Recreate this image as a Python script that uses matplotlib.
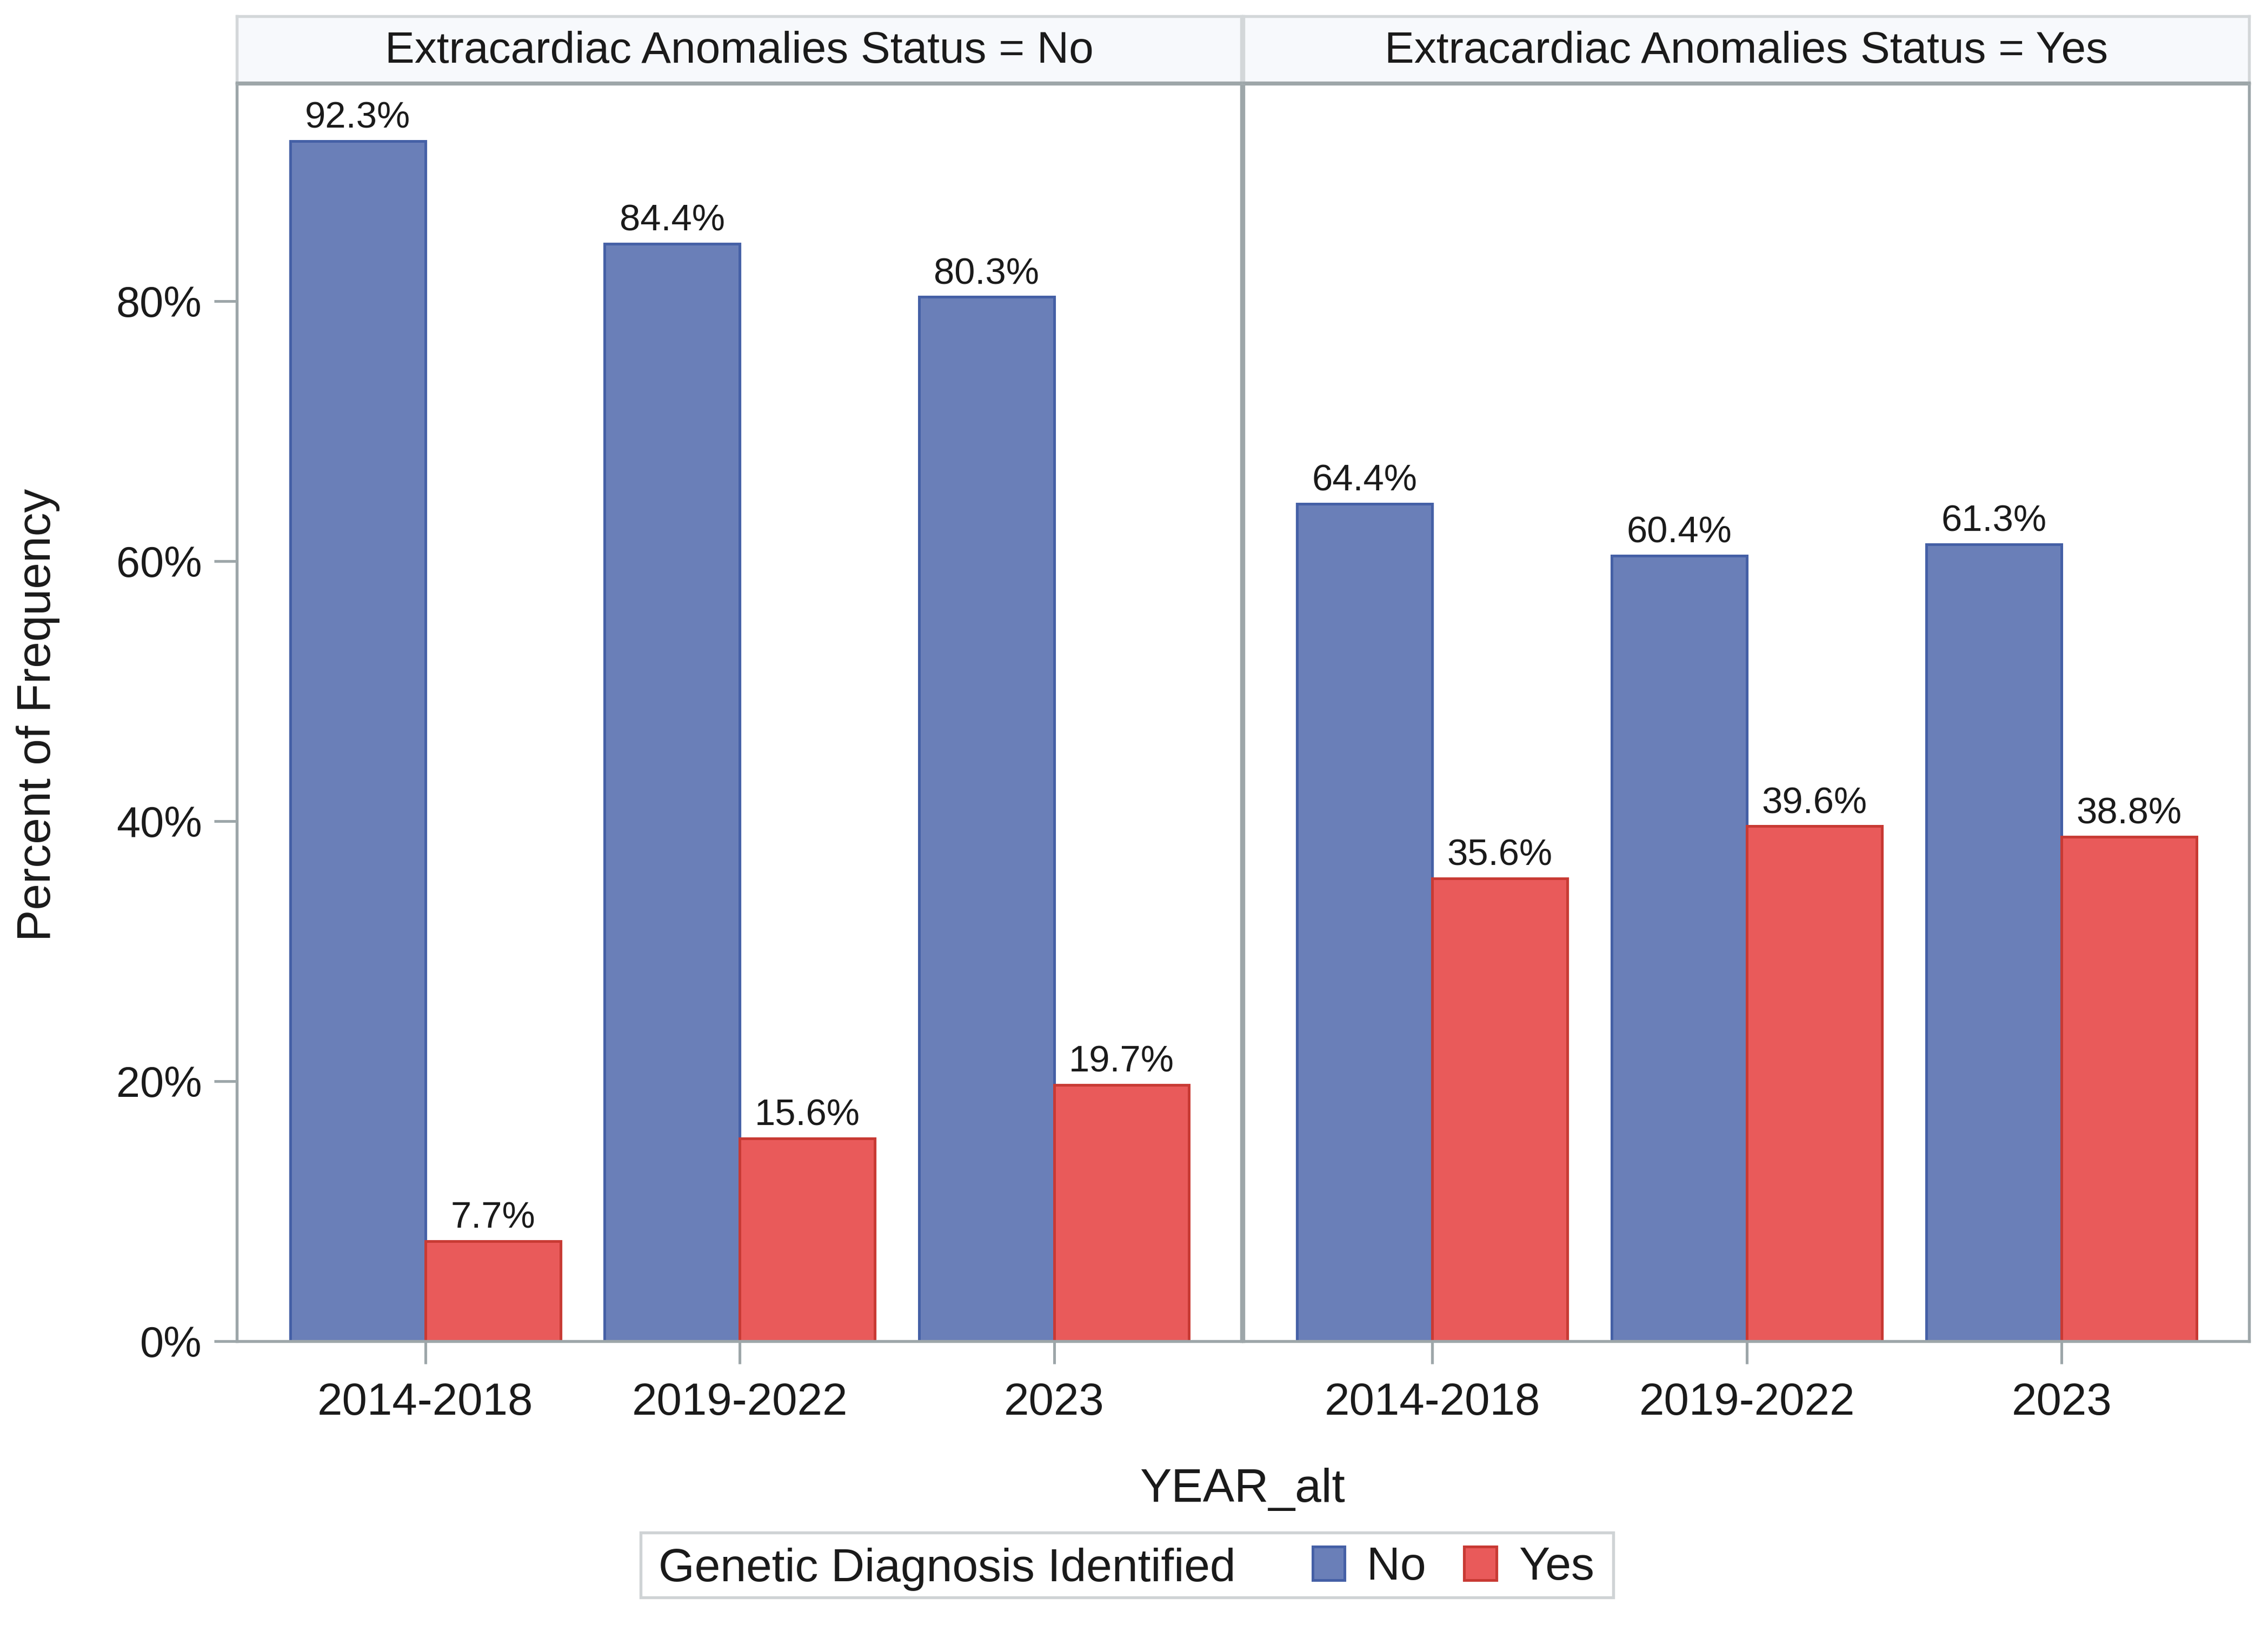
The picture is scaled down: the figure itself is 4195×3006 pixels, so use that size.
import matplotlib
matplotlib.use("Agg")
import matplotlib.pyplot as plt
from matplotlib.patches import Rectangle, Patch
import numpy as np

plt.rcParams['font.family'] = ['Liberation Sans', 'DejaVu Sans']

# ---------------- data ----------------
panel_titles = ["Extracardiac Anomalies Status = No", "Extracardiac Anomalies Status = Yes"]
periods = ["2014-2018", "2019-2022", "2023"]
# Genetic Diagnosis Identified = No / Yes, per panel
extracardiac_no_diag_no = [92.3, 84.4, 80.3]
extracardiac_no_diag_yes = [7.7, 15.6, 19.7]
extracardiac_yes_diag_no = [64.4, 60.4, 61.3]
extracardiac_yes_diag_yes = [35.6, 39.6, 38.8]
ytick_values = [0, 20, 40, 60, 80]
ytick_labels = ["0%", "20%", "40%", "60%", "80%"]
legend_title = "Genetic Diagnosis Identified"
legend_labels = ["No", "Yes"]
x_label = "YEAR_alt"
y_label = "Percent of Frequency"

# ---------------- style ----------------
W, H, DPI = 4195, 3006, 300
BLUE, BLUE_E = "#6A7FB8", "#4560A6"
RED, RED_E = "#E95A5A", "#C83A34"
GRAY = "#9DA6A9"
HEADER_BG = "#F7F9FC"

def fx(px):
    return px / W

def fy(py):
    return 1 - py / H

fig = plt.figure(figsize=(W / DPI, H / DPI), dpi=DPI)
fig.patch.set_facecolor("white")

plot_top, plot_bot = 155, 2481
head_top, head_bot = 30, 153
panel_x = [(438, 2296), (2300, 4160)]
data = [(extracardiac_no_diag_no, extracardiac_no_diag_yes),
        (extracardiac_yes_diag_no, extracardiac_yes_diag_yes)]

bw = 0.43
xpos = np.arange(len(periods))

for i, ((x0, x1), (vno, vyes), title) in enumerate(zip(panel_x, data, panel_titles)):
    ax = fig.add_axes([fx(x0), fy(plot_bot), (x1 - x0) / W, (plot_bot - plot_top) / H])
    b1 = ax.bar(xpos - bw / 2, vno, bw, color=BLUE, edgecolor=BLUE_E, linewidth=1.2, zorder=2)
    b2 = ax.bar(xpos + bw / 2, vyes, bw, color=RED, edgecolor=RED_E, linewidth=1.2, zorder=2)
    for cont, vals in ((b1, vno), (b2, vyes)):
        ax.bar_label(cont, labels=[f"{v:.1f}%" for v in vals], padding=2.5,
                     fontsize=16.5, color="#1a1a1a")
    ax.set_xlim(-0.60, 2.596)
    ax.set_ylim(0, 96.7)
    ax.set_xticks(xpos, periods)
    ax.tick_params(axis="x", length=10, width=1.2, color=GRAY, pad=8,
                   labelsize=20, labelcolor="#1a1a1a")
    if i == 0:
        ax.set_yticks(ytick_values, ytick_labels)
        ax.tick_params(axis="y", length=10, width=1.2, color=GRAY, pad=5.5,
                       labelsize=19, labelcolor="#1a1a1a")
    else:
        ax.set_yticks(ytick_values)
        ax.tick_params(axis="y", left=False, labelleft=False)
    for sp in ax.spines.values():
        sp.set_color(GRAY)
        sp.set_linewidth(1.3)

    hax = fig.add_axes([fx(x0), fy(head_bot), (x1 - x0) / W, (head_bot - head_top) / H])
    hax.set_facecolor(HEADER_BG)
    hax.set_xticks([])
    hax.set_yticks([])
    for name, sp in hax.spines.items():
        sp.set_color("#D3D7D9" if name != "bottom" else GRAY)
        sp.set_linewidth(1.3)
    hax.text(0.5, 0.47, title, ha="center", va="center", fontsize=19.7, color="#1a1a1a",
             transform=hax.transAxes)

# axis labels
fig.text(fx(93), 0.56, y_label, rotation=90, rotation_mode="anchor",
         ha="center", va="baseline", fontsize=21, color="#1a1a1a")
fig.text(fx(2298), fy(2778), x_label, ha="center", va="baseline",
         fontsize=21, color="#1a1a1a")

# legend
box = Rectangle((fx(1185), fy(2955)), (2984 - 1185) / W, (2955 - 2835) / H,
                transform=fig.transFigure, facecolor="white", edgecolor="#CFD3D5",
                linewidth=1.3)
fig.add_artist(box)
fig.text(fx(1218), fy(2925), legend_title, ha="left", va="baseline",
         fontsize=20.6, color="#1a1a1a")
handles = [Patch(facecolor=BLUE, edgecolor=BLUE_E, linewidth=1.2),
           Patch(facecolor=RED, edgecolor=RED_E, linewidth=1.2)]
fig.legend(handles, legend_labels, loc="center left",
           bbox_to_anchor=(fx(2428), fy(2900)), ncol=2, frameon=False,
           fontsize=20.6, handlelength=0.69, handleheight=0.72, handletextpad=0.48,
           columnspacing=0.82, borderpad=0, borderaxespad=0,
           labelcolor="#1a1a1a")

fig.savefig("out.png", dpi=DPI, facecolor="white")
